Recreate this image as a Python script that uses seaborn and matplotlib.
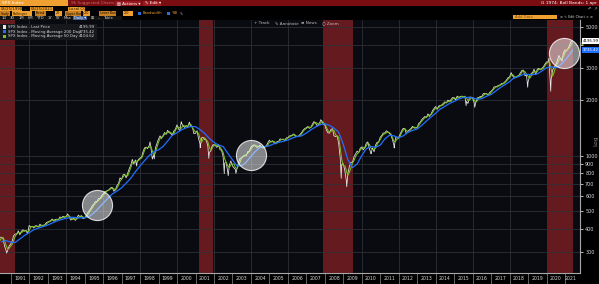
import pandas as pd
import matplotlib
matplotlib.use("Agg")
import matplotlib.pyplot as plt
import matplotlib.dates as mdates
import matplotlib.transforms as mtransforms
from matplotlib.patches import Rectangle
from matplotlib.ticker import FixedLocator, FixedFormatter, NullLocator, NullFormatter
import seaborn as sns

# ------------------------------------------------------------------ data
price_start = "1990-05-31"          # month-end closes, May 1990 .. Apr 2021
last_price = [
    361, 358, 356, 323, 306, 304, 322, 330,                                  # 1990
    344, 367, 375, 375, 390, 371, 388, 395, 388, 392, 375, 417,              # 1991
    409, 413, 404, 415, 415, 408, 424, 414, 418, 419, 431, 436,              # 1992
    439, 443, 452, 440, 450, 451, 448, 464, 459, 468, 462, 466,              # 1993
    482, 467, 446, 451, 457, 444, 458, 475, 463, 472, 454, 459,              # 1994
    470, 487, 501, 515, 533, 545, 562, 562, 584, 582, 605, 616,              # 1995
    636, 640, 646, 654, 669, 671, 640, 652, 687, 705, 757, 741,              # 1996
    786, 791, 757, 801, 848, 885, 954, 899, 947, 915, 955, 970,              # 1997
    980, 1049, 1102, 1112, 1091, 1134, 1121, 957, 1017, 1099, 1164, 1229,    # 1998
    1280, 1238, 1286, 1335, 1302, 1373, 1329, 1320, 1283, 1363, 1389, 1469,  # 1999
    1394, 1366, 1499, 1452, 1421, 1455, 1431, 1518, 1437, 1429, 1315, 1320,  # 2000
    1366, 1240, 1160, 1249, 1256, 1224, 1211, 1134, 1041, 1060, 1139, 1148,  # 2001
    1130, 1107, 1147, 1077, 1067, 990, 912, 916, 815, 886, 936, 880,         # 2002
    856, 841, 848, 917, 964, 975, 990, 1008, 996, 1051, 1058, 1112,          # 2003
    1131, 1145, 1126, 1107, 1121, 1141, 1102, 1104, 1115, 1130, 1174, 1212,  # 2004
    1181, 1204, 1181, 1157, 1192, 1191, 1234, 1220, 1229, 1207, 1249, 1248,  # 2005
    1280, 1281, 1295, 1311, 1270, 1270, 1277, 1304, 1336, 1378, 1401, 1418,  # 2006
    1438, 1407, 1421, 1482, 1531, 1503, 1455, 1474, 1527, 1549, 1481, 1468,  # 2007
    1379, 1331, 1323, 1386, 1400, 1280, 1267, 1283, 1166, 969, 896, 903,     # 2008
    826, 735, 798, 873, 919, 919, 987, 1021, 1057, 1036, 1096, 1115,         # 2009
    1074, 1104, 1169, 1187, 1089, 1031, 1102, 1049, 1141, 1183, 1181, 1258,  # 2010
    1286, 1327, 1326, 1364, 1345, 1321, 1292, 1219, 1131, 1253, 1247, 1258,  # 2011
    1312, 1366, 1408, 1398, 1310, 1362, 1379, 1407, 1441, 1412, 1416, 1426,  # 2012
    1498, 1515, 1569, 1598, 1631, 1606, 1686, 1633, 1682, 1757, 1806, 1848,  # 2013
    1783, 1859, 1872, 1884, 1924, 1960, 1931, 2003, 1972, 2018, 2068, 2059,  # 2014
    1995, 2105, 2068, 2086, 2107, 2063, 2104, 1972, 1920, 2079, 2080, 2044,  # 2015
    1940, 1932, 2060, 2065, 2097, 2099, 2174, 2171, 2168, 2126, 2199, 2239,  # 2016
    2279, 2364, 2363, 2384, 2412, 2423, 2470, 2472, 2519, 2575, 2648, 2674,  # 2017
    2824, 2714, 2641, 2648, 2705, 2718, 2816, 2902, 2914, 2712, 2760, 2507,  # 2018
    2704, 2784, 2834, 2946, 2752, 2942, 2980, 2926, 2977, 3038, 3141, 3231,  # 2019
    3226, 2954, 2585, 2912, 3044, 3100, 3271, 3500, 3363, 3270, 3622, 3756,  # 2020
    3714, 3811, 3973, 4181,                                                  # 2021
]
ma50_monthly = [
    345, 355, 360, 345, 325, 312, 313, 322,                                  # 1990
    330, 345, 365, 374, 382, 380, 380, 388, 390, 390, 385, 390,              # 1991
    408, 412, 410, 410, 413, 412, 413, 418, 417, 418, 422, 432,              # 1992
    436, 440, 447, 446, 444, 449, 449, 455, 458, 462, 464, 465,              # 1993
    470, 470, 460, 450, 451, 452, 452, 462, 468, 468, 464, 458,              # 1994
    462, 473, 490, 503, 518, 535, 550, 560, 570, 580, 590, 608,              # 1995
    620, 635, 645, 650, 660, 668, 660, 650, 665, 690, 725, 745,              # 1996
    765, 785, 780, 775, 815, 860, 915, 925, 925, 935, 940, 960,              # 1997
    970, 1010, 1070, 1105, 1105, 1110, 1125, 1060, 1000, 1040, 1110, 1180,   # 1998
    1240, 1260, 1270, 1310, 1325, 1330, 1350, 1330, 1320, 1310, 1370, 1420,  # 1999
    1430, 1410, 1410, 1460, 1450, 1440, 1450, 1470, 1480, 1420, 1380, 1340,  # 2000
    1340, 1320, 1240, 1180, 1230, 1250, 1220, 1190, 1110, 1070, 1100, 1140,  # 2001
    1145, 1130, 1125, 1110, 1080, 1040, 960, 920, 880, 860, 890, 900,        # 2002
    900, 860, 850, 880, 920, 970, 985, 995, 1010, 1030, 1050, 1080,          # 2003
    1110, 1135, 1140, 1125, 1115, 1125, 1120, 1100, 1110, 1120, 1140, 1180,  # 2004
    1195, 1190, 1195, 1175, 1170, 1190, 1210, 1225, 1225, 1210, 1225, 1250,  # 2005
    1260, 1275, 1285, 1300, 1290, 1270, 1270, 1285, 1315, 1355, 1385, 1405,  # 2006
    1425, 1430, 1425, 1450, 1500, 1515, 1500, 1480, 1490, 1530, 1520, 1480,  # 2007
    1430, 1370, 1340, 1350, 1380, 1370, 1300, 1270, 1260, 1100, 950, 880,    # 2008
    880, 830, 780, 810, 860, 910, 940, 990, 1020, 1040, 1070, 1100,          # 2009
    1110, 1100, 1130, 1170, 1150, 1100, 1080, 1080, 1100, 1150, 1190, 1220,  # 2010
    1270, 1300, 1315, 1330, 1345, 1330, 1310, 1250, 1190, 1200, 1230, 1240,  # 2011
    1280, 1335, 1380, 1400, 1370, 1340, 1350, 1390, 1420, 1430, 1410, 1420,  # 2012
    1460, 1500, 1540, 1570, 1610, 1620, 1640, 1660, 1670, 1710, 1770, 1810,  # 2013
    1810, 1820, 1860, 1870, 1890, 1930, 1950, 1960, 1980, 1970, 2030, 2060,  # 2014
    2040, 2050, 2080, 2080, 2095, 2095, 2090, 2060, 1990, 2000, 2060, 2070,  # 2015
    2010, 1950, 1980, 2050, 2070, 2080, 2120, 2160, 2170, 2150, 2150, 2210,  # 2016
    2260, 2310, 2360, 2360, 2390, 2410, 2440, 2460, 2490, 2540, 2600, 2650,  # 2017
    2730, 2760, 2700, 2670, 2680, 2720, 2750, 2840, 2880, 2860, 2770, 2700,  # 2018
    2630, 2700, 2780, 2860, 2860, 2860, 2950, 2950, 2950, 2990, 3070, 3160,  # 2019
    3220, 3250, 2950, 2700, 2850, 3050, 3150, 3300, 3380, 3370, 3450, 3650,  # 2020
    3730, 3800, 3880, 4000,                                                  # 2021
]
last_date = "2021-05-26"
last_value = 4195.99
ma50_last = 4104.62
ma200_last = 3735.42

extreme_dates = ["1990-10-11", "1997-10-27", "1998-07-17", "1998-10-08", "2000-03-24",
                 "2000-09-01", "2001-04-04", "2001-09-21", "2002-07-23", "2002-10-09",
                 "2003-03-11", "2007-10-09", "2008-11-20", "2009-03-09", "2010-07-02",
                 "2011-10-03", "2015-08-25", "2016-02-11", "2018-12-24", "2020-02-19",
                 "2020-03-23"]
extreme_values = [295, 876, 1187, 959, 1527,
                  1521, 1103, 966, 797, 777,
                  800, 1565, 752, 677, 1022,
                  1099, 1867, 1829, 2351, 3386,
                  2237]

ma200_start = "1990-06-30"          # quarter-end values
ma200_quarterly = [
    340, 345, 338,
    337, 352, 368, 381,   395, 404, 411, 419,   430, 441, 449, 456,
    462, 461, 458, 460,   467, 487, 517, 550,   585, 618, 641, 668,
    708, 752, 817, 878,   939, 1000, 1050, 1075, 1120, 1200, 1290, 1330,
    1380, 1415, 1440, 1435, 1385, 1320, 1240, 1180, 1140, 1120, 1030, 950,
    880, 880, 920, 990,   1055, 1110, 1120, 1130, 1160, 1180, 1195, 1215,
    1245, 1270, 1280, 1325, 1380, 1430, 1470, 1490, 1460, 1410, 1340, 1150,
    950, 860, 900, 1000,  1090, 1120, 1110, 1140, 1230, 1290, 1280, 1250,
    1280, 1340, 1370, 1395, 1460, 1540, 1620, 1700, 1790, 1850, 1920, 1970,
    2030, 2070, 2070, 2060, 2020, 2040, 2100, 2150, 2240, 2340, 2430, 2520,
    2650, 2690, 2770, 2760, 2750, 2780, 2880, 3000, 3040, 3000, 3100, 3300,
    3530,
]

recession_starts = ["1990-06-01", "2001-03-10", "2007-11-23", "2020-01-08"]
recession_ends = ["1991-03-25", "2001-12-10", "2009-07-08", "2021-06-03"]

year_labels = [str(y) for y in range(1991, 2022)]
y_ticks = [300, 400, 500, 600, 700, 800, 900, 1000, 2000, 3000, 4000, 5000]
y_tick_labels = ["300", "400", "500", "600", "700", "800", "900", "1000",
                 "2000", "3000", "", "5000"]

highlight_dates = ["1995-08-25", "2003-12-25", "2020-12-01"]
highlight_values = [538, 1007, 3611]

legend_names = ["SPX Index - Last Price",
                "SPX Index - Moving Average 200 Day",
                "SPX Index - Moving Average 50 Day"]
legend_values = ["4195.99", "3735.42", "4104.62"]

# ------------------------------------------------------------------ frames
months = pd.date_range(price_start, periods=len(last_price), freq="ME")
price_df = pd.concat([
    pd.DataFrame({"date": months, "value": last_price}),
    pd.DataFrame({"date": pd.to_datetime(extreme_dates), "value": extreme_values}),
    pd.DataFrame({"date": [pd.Timestamp(last_date)], "value": [last_value]}),
]).sort_values("date").reset_index(drop=True)

ma50_df = pd.concat([
    pd.DataFrame({"date": months, "value": ma50_monthly}),
    pd.DataFrame({"date": [pd.Timestamp(last_date)], "value": [ma50_last]}),
]).reset_index(drop=True)

quarters = pd.date_range(ma200_start, periods=len(ma200_quarterly), freq="QE")
ma200_df = pd.concat([
    pd.DataFrame({"date": quarters, "value": ma200_quarterly}),
    pd.DataFrame({"date": [pd.Timestamp(last_date)], "value": [ma200_last]}),
]).reset_index(drop=True)

# ------------------------------------------------------------------ style
sns.set_style("dark")
plt.rcParams["font.family"] = ["DejaVu Sans"]

W, H = 599, 284
WHITE = "#e8e8e8"
GREEN = "#7cc21a"
BLUE = "#1f70ff"
ORANGE = "#f0a030"

fig = plt.figure(figsize=(W / 100, H / 100), dpi=100)
fig.patch.set_facecolor("#000000")
ax = fig.add_axes([0, 11 / H, 580 / W, 253 / H])
ax.set_facecolor("#0a0b11")
ax.set_axisbelow(True)

for s, e in zip(recession_starts, recession_ends):
    ax.axvspan(pd.Timestamp(s), pd.Timestamp(e), color="#641a1e", lw=0, zorder=0.3)

sns.lineplot(data=price_df, x="date", y="value", ax=ax, color=WHITE,
             linewidth=0.55, estimator=None, sort=False, zorder=2)
sns.lineplot(data=ma50_df, x="date", y="value", ax=ax, color=GREEN,
             linewidth=0.75, estimator=None, sort=False, zorder=3)
sns.lineplot(data=ma200_df, x="date", y="value", ax=ax, color=BLUE,
             linewidth=0.9, estimator=None, sort=False, zorder=4)

ax.scatter(pd.to_datetime(highlight_dates), highlight_values, s=470,
           facecolor=(1, 1, 1, 0.5), edgecolor=(1, 1, 1, 0.8), linewidth=0.8,
           zorder=5)

ax.set_yscale("log")
ax.set_ylim(230, 5457)
ax.set_xlim(pd.Timestamp("1990-06-03"), pd.Timestamp("2021-10-23"))
ax.set_xlabel("")
ax.set_ylabel("")

ax.yaxis.tick_right()
ax.yaxis.set_major_locator(FixedLocator(y_ticks))
ax.yaxis.set_major_formatter(FixedFormatter(y_tick_labels))
ax.yaxis.set_minor_locator(NullLocator())
ax.tick_params(axis="y", which="major", length=2.5, width=0.6, color="#d0d0d0",
               labelsize=3.5, labelcolor="#d8d8d8", pad=1.2, direction="out",
               right=True, left=False)

ax.xaxis.set_major_locator(mdates.YearLocator(2))
ax.xaxis.set_minor_locator(mdates.YearLocator(1))
ax.xaxis.set_major_formatter(NullFormatter())
ax.xaxis.set_minor_formatter(NullFormatter())
ax.tick_params(axis="x", which="both", length=8, width=0.5, color="#8a8a8a",
               direction="out", bottom=True)

ax.grid(True, which="major", axis="both", color="#2e3036", linewidth=0.6)
ax.grid(False, which="minor")

for side in ["top", "left"]:
    ax.spines[side].set_visible(False)
for side in ["right", "bottom"]:
    ax.spines[side].set_visible(True)
    ax.spines[side].set_color("#a8a8a8")
    ax.spines[side].set_linewidth(0.8)

# year labels centred in each year strip
xy_trans = mtransforms.blended_transform_factory(ax.transData, ax.transAxes)
for lab in year_labels:
    yr = int(lab)
    mid = pd.Timestamp(f"{yr}-07-01") if yr < 2021 else pd.Timestamp("2021-04-10")
    ax.text(mid, -5.5 / 253, lab, transform=xy_trans, ha="center", va="center",
            fontsize=3.3, color="#d8d8d8", clip_on=False)

# last-value boxes on the right axis (50-day value hidden behind last price)
ay_trans = mtransforms.blended_transform_factory(ax.transAxes, ax.transData)
ax.plot([1.002, 1.006], [ma50_last, ma50_last], transform=ay_trans, color=GREEN,
        lw=2.0, clip_on=False, zorder=5.5, solid_capstyle="butt")
for val, txt, fc, tc in [(last_value, legend_values[0], "white", "black"),
                         (ma200_last, legend_values[1], BLUE, "white")]:
    ax.text(1.0045, val, txt, transform=ay_trans, ha="left", va="center",
            fontsize=2.75, color=tc, clip_on=False, zorder=6,
            bbox=dict(boxstyle="square,pad=0.25", fc=fc, ec="none"))

# ------------------------------------------------------------------ UI chrome
def box(x, y, w, h, color, z=2):
    fig.patches.append(Rectangle((x / W, 1 - (y + h) / H), w / W, h / H,
                                 transform=fig.transFigure, color=color,
                                 zorder=z, lw=0))

def label(x, y, s, color="#e0e0e0", size=3.4, ha="left", **kw):
    fig.text(x / W, 1 - y / H, s, color=color, fontsize=size, ha=ha,
             va="center", zorder=5, **kw)

# row 1
box(0, 0, 599, 6.3, "#7a0d12")
box(0, 0, 68, 6.3, ORANGE)
label(2, 3.2, "SPX Index", "#ffffff", size=3.2)
label(71, 3.2, "96 Suggested Charts", "#c06a6a", size=3.0)
box(115, 0.6, 26, 5.2, "#9a1a20")
label(117, 3.2, "\u25a4 Actions \u25be", "#ffffff", size=3.0)
box(143, 0.6, 18, 5.2, "#9a1a20")
label(145, 3.2, "\u270e Edit \u25be", "#ffffff", size=3.0)
label(597, 3.2, "G 1974: Boll Bands: 1 apr", "#ffffff", size=3.2, ha="right")

# row 2
box(0, 6.8, 22, 4.2, ORANGE)
label(1, 9, "05/25/1990", "#201000", size=2.8)
box(30, 6.8, 23, 4.2, ORANGE)
label(31, 9, "05/25/2021", "#201000", size=2.8)
label(24.5, 9, "-", "#c0c0c0", size=2.8)
box(68, 6.8, 17, 4.2, ORANGE)
label(69, 9, "Local CCY", "#201000", size=2.8)
label(597, 8.8, "\u21b6  \u2197", "#c0c0c0", size=3.0, ha="right")

# row 3
for x, w, s in [(0, 10, "Study"), (35, 11, "Period"), (65, 16, "Upper Band"),
                (99, 17, "Lower Band")]:
    box(x, 11.4, w, 4.1, "#c88020")
    label(x + 0.5, 13.5, s, "#1a0d00", size=2.15)
for x, w, s in [(12, 20, "Bollinger"), (55, 7, "20"), (83, 7, "2.0"), (123, 10, "2.0")]:
    box(x, 11.4, w, 4.1, ORANGE)
    label(x + 0.8, 13.5, s, "#1a0d00", size=2.4)
box(138, 11.9, 3.2, 3.2, "#2a6fd8")
label(143, 13.5, "Bandwidth", ORANGE, size=2.6)
box(167, 11.9, 3.2, 3.2, "#2a6fd8")
label(172, 13.5, "%B", ORANGE, size=2.6)
label(180, 13.5, "\u270e", "#c0c0c0", size=2.6)

# row 3/4 right
box(513, 15, 44, 4.3, ORANGE)
label(515, 17.1, "Add Data", "#7a4a10", size=2.7)
label(560, 17.1, "\u2699 \u270e Edit Chart \u2715 \u2699", "#d0d0d0", size=2.4)

# row 4
box(0, 16, 122, 4.2, "#121212")
for x, s in [(2, "1D"), (10, "3D"), (19, "1M"), (28, "6M"), (37, "YTD"),
             (48, "1Y"), (56, "5Y"), (64, "Max")]:
    label(x, 18.1, s, "#d8d8d8", size=2.7)
box(73, 16.2, 14, 3.9, "#3f5f94")
label(74, 18.1, "Daily \u25be", "#ffffff", size=2.6)
label(91, 18.1, "\u229e", "#d8d8d8", size=2.7)
label(98, 18.1, "\u2013", "#d8d8d8", size=2.7)
label(104, 18.1, "Table", "#d8d8d8", size=2.7)

# in-plot toolbar
label(254, 23.5, "+ Track", "#bdbdbd", size=3.0)
label(275, 23.5, "\u270e Annotate", "#bdbdbd", size=3.0)
label(301, 23.5, "\u2261 News", "#bdbdbd", size=3.0)
label(322, 23.5, "\u25cb Zoom", "#bdbdbd", size=3.0)

# legend panel
box(0, 23.5, 97, 16.5, "#17181c", z=3)
for i, (name, val, col) in enumerate(zip(legend_names, legend_values,
                                         [WHITE, BLUE, GREEN])):
    yc = 27 + i * 4.6
    box(2.5, yc - 1.6, 3.2, 3.2, col, z=4)
    label(8, yc, name, "#dcdcdc", size=2.8)
    label(95, yc, val, "#dcdcdc", size=2.8, ha="right")

# Log toggle on the right
label(593, 141, "Log", "#8a8a8a", size=4.2, rotation=90)

fig.savefig("out.png", dpi=100, facecolor=fig.get_facecolor())
